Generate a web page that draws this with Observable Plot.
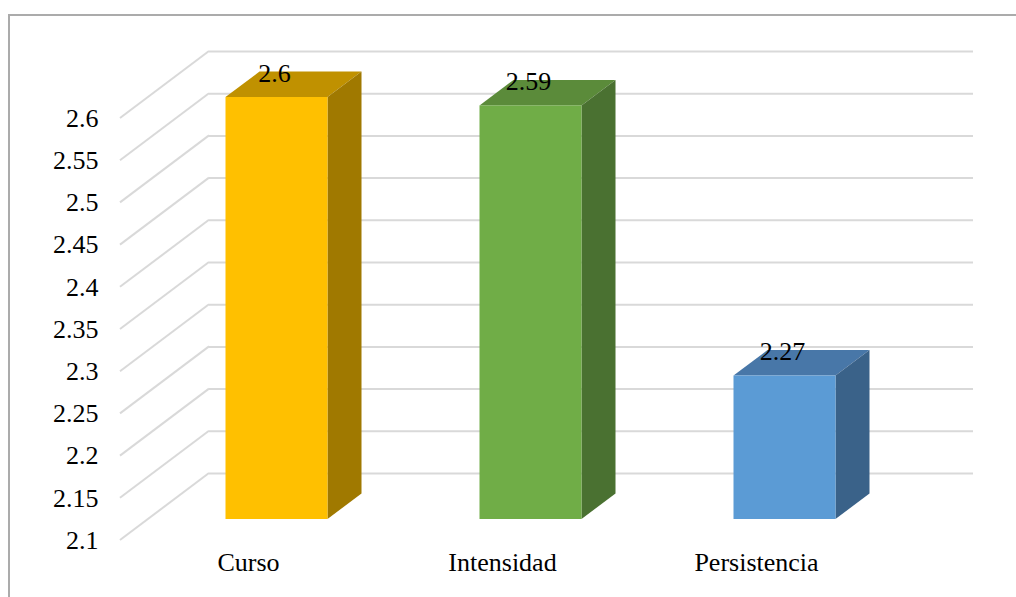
<!DOCTYPE html>
<html>
<head>
<meta charset="utf-8">
<script src="https://cdn.jsdelivr.net/npm/d3@7"></script>
<script src="https://cdn.jsdelivr.net/npm/@observablehq/plot@0.6"></script>
<style>
  html, body { margin: 0; padding: 0; background: #fff; overflow: hidden; }
  #chart { position: relative; width: 1016px; height: 597px; }
  #chart svg text { font-family: "Liberation Serif", "Times New Roman", serif; }
  #chart .box {
    position: absolute; left: 8px; top: 14px; width: 1100px; height: 700px;
    border: 2px solid #ababab; box-sizing: border-box; pointer-events: none;
  }
</style>
</head>
<body>
<div id="chart"><div class="box"></div></div>
<script>
// Mean score per dimension
const categories = ["Curso", "Intensidad", "Persistencia"];
const values = [2.6, 2.59, 2.27];

// Value axis ticks and their labels
const yTicks = [2.1, 2.15, 2.2, 2.25, 2.3, 2.35, 2.4, 2.45, 2.5, 2.55, 2.6];
const yTickLabels = ["2.1", "2.15", "2.2", "2.25", "2.3", "2.35", "2.4", "2.45", "2.5", "2.55", "2.6"];

// Face colours of each column: front, top, side
const frontColors = ["#FFC000", "#70AD47", "#5B9BD5"];
const topColors = ["#C09100", "#5B8B3A", "#4877A8"];
const sideColors = ["#A07900", "#4A7131", "#3A6289"];

const rows = categories.map((category, i) => ({category, value: values[i], i}));

// Oblique projection: offset of the back wall and of the columns
const WALL_DX = 89, WALL_DY = -67;      // full floor depth
const BAR_DX = 28.5, BAR_DY = -21;      // column front plane
const COL_DX = 34, COL_DY = -25.5;      // column depth
const GRID = "#d9d9d9";
const FONT = "Liberation Serif";

// Diagonal grid lines on the side wall, from the front edge to the back wall
const sideWall = (index, {y}, channels, {marginLeft}) => {
  const g = d3.create("svg:g")
    .attr("stroke", GRID).attr("stroke-width", 2).attr("fill", "none");
  for (const t of yTicks) {
    g.append("line")
      .attr("x1", marginLeft).attr("y1", y(t))
      .attr("x2", marginLeft + WALL_DX).attr("y2", y(t) + WALL_DY);
  }
  return g.node();
};

// Top and right side faces of each column
const columnFaces = (index, {x, y}) => {
  const g = d3.create("svg:g");
  const bw = x.bandwidth();
  const base = y(yTicks[0]) + BAR_DY;
  rows.forEach(({category, value, i}) => {
    const xl = x(category) + BAR_DX, xr = xl + bw;
    const yt = y(value) + BAR_DY;
    g.append("path").attr("fill", topColors[i])
      .attr("d", `M${xl},${yt}L${xl + COL_DX},${yt + COL_DY}L${xr + COL_DX},${yt + COL_DY}L${xr},${yt}Z`);
    g.append("path").attr("fill", sideColors[i])
      .attr("d", `M${xr},${yt}L${xr + COL_DX},${yt + COL_DY}L${xr + COL_DX},${base + COL_DY}L${xr},${base}Z`);
  });
  return g.node();
};

const chart = Plot.plot({
  width: 1016,
  height: 597,
  marginLeft: 120,
  marginRight: 132,
  marginTop: 118,
  marginBottom: 57,
  style: {fontFamily: FONT, fontSize: "26px", color: "#000", background: "transparent", overflow: "visible"},
  x: {domain: categories, paddingInner: 0.6, paddingOuter: 0.3, axis: null},
  y: {domain: [yTicks[0], yTicks[yTicks.length - 1]], axis: null},
  marks: [
    // back wall grid
    Plot.ruleY(yTicks, {stroke: GRID, strokeWidth: 2, dx: WALL_DX, dy: WALL_DY}),
    sideWall,
    // columns
    columnFaces,
    Plot.barY(rows, {x: "category", y1: yTicks[0], y2: "value", fill: (d) => frontColors[d.i], dx: BAR_DX, dy: BAR_DY}),
    // value labels
    Plot.text(rows, {x: "category", y: "value", text: (d) => String(d.value), dx: 26, dy: -45, fill: "#000", fontSize: 26, fontFamily: FONT}),
    // value axis labels
    Plot.text(yTicks, {y: (d) => d, text: (d, i) => yTickLabels[i], frameAnchor: "left", textAnchor: "end", dx: -22, fill: "#000", fontSize: 26, fontFamily: FONT}),
    // category labels
    Plot.text(categories, {x: (d) => d, frameAnchor: "bottom", dy: 30, fill: "#000", fontSize: 26, fontFamily: FONT})
  ]
});

chart.style.position = "absolute";
chart.style.left = "0";
chart.style.top = "0";
document.getElementById("chart").prepend(chart);
</script>
</body>
</html>
